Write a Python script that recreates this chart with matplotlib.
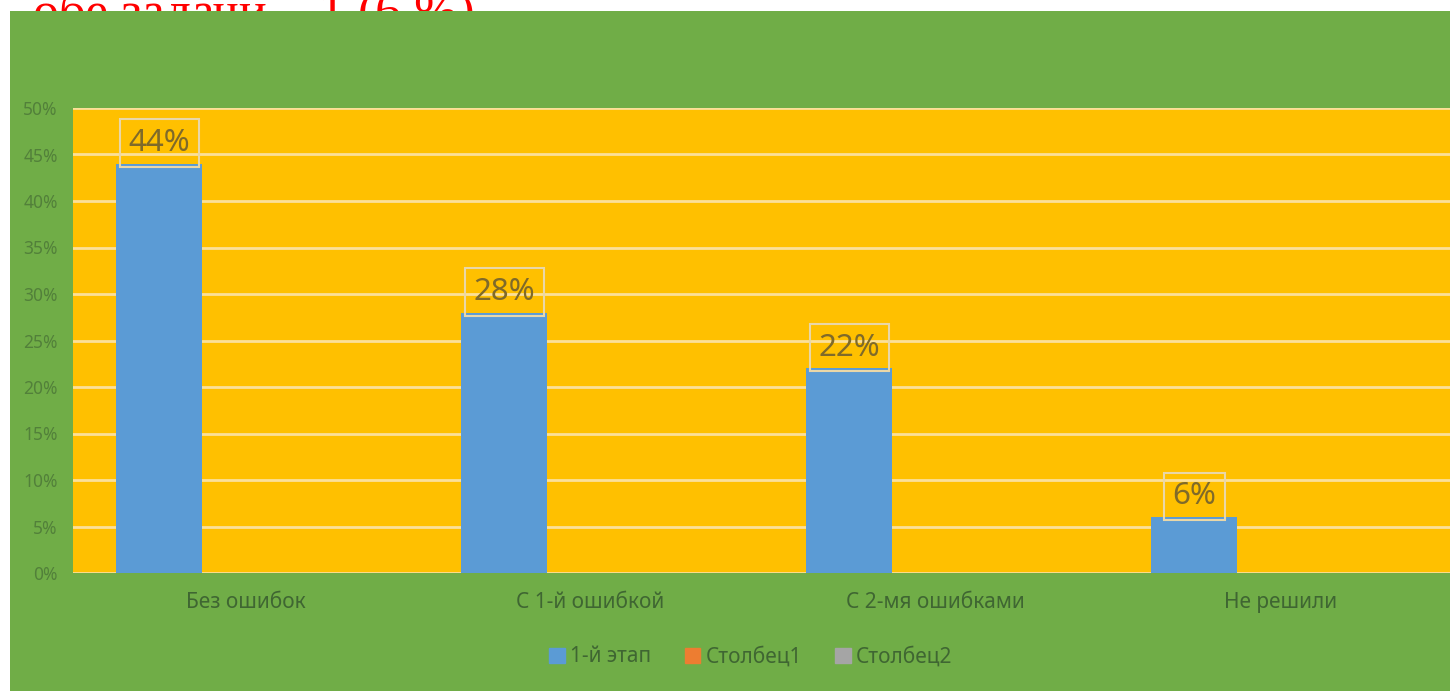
import numpy as np
import matplotlib.pyplot as plt
from matplotlib.patches import Rectangle, Patch

categories = ['Без ошибок', 'С 1-й ошибкой', 'С 2-мя ошибками', 'Не решили']
stage1 = [44, 28, 22, 6]
col1 = [0, 0, 0, 0]
col2 = [0, 0, 0, 0]
series_names = ['1-й этап', 'Столбец1', 'Столбец2']
yticks = list(range(0, 51, 5))
header = 'обе задачи – 1 (6 %)'

W, H = 1450, 691
fig = plt.figure(figsize=(W / 100, H / 100), dpi=100)
fig.patch.set_facecolor('white')

# red caption text, partly hidden by the chart frame
fig.text(33 / W, 1 - 28 / H, header, color='red', fontsize=37.5,
         family='Liberation Serif', ha='left', va='baseline', zorder=0)

# green chart area
fig.patches.append(Rectangle((10 / W, 0), 1 - 10 / W, 1 - 11 / H,
                             transform=fig.transFigure, facecolor='#70AD47',
                             edgecolor='none', zorder=1))

ax = fig.add_axes([73 / W, (H - 573) / H, 1380 / W, 465 / H], zorder=2)
ax.set_facecolor('#FFC000')

x = np.arange(len(categories))
w = 0.25
ax.bar(x - w, stage1, width=w, color='#5B9BD5', zorder=3)
ax.bar(x, col1, width=w, color='#ED7D31', linewidth=0, zorder=3)
ax.bar(x + w, col2, width=w, color='#A5A5A5', linewidth=0, zorder=3)

for xi, v in zip(x - w, stage1):
    ax.annotate(f'{v}%', (xi, v), xytext=(0, 15), textcoords='offset points',
                ha='center', va='center', fontsize=22.5, color='#7F6A2A',
                family='Noto Sans', zorder=4,
                bbox=dict(boxstyle='square,pad=0.28', fc='none',
                          ec='#E9D7A8', lw=1.5))

ax.set_xlim(-0.5, 3.5)
ax.set_ylim(0, 50)
ax.set_yticks(yticks)
ax.set_yticklabels([f'{t}%' for t in yticks])
ax.set_xticks(x)
ax.set_xticklabels(categories)
ax.yaxis.grid(True, color='#FBE09A', linewidth=2, zorder=1)
ax.set_axisbelow(True)
for s in ax.spines.values():
    s.set_visible(False)
ax.tick_params(axis='y', length=0, pad=11, labelsize=12.5, labelcolor='#52803A')
ax.tick_params(axis='x', length=0, pad=14, labelsize=15, labelcolor='#3F6632')
for lab in ax.get_xticklabels() + ax.get_yticklabels():
    lab.set_family('Noto Sans')

handles = [Patch(color=c) for c in ['#5B9BD5', '#ED7D31', '#A5A5A5']]
fig.legend(handles, series_names, loc='center', ncol=3, frameon=False,
           bbox_to_anchor=(751 / W, 1 - 657 / H), handlelength=0.75,
           handleheight=0.75, handletextpad=0.25, columnspacing=1.6,
           prop={'family': 'Noto Sans', 'size': 15}, labelcolor='#3F6632')

fig.savefig('out.png', dpi=100)
